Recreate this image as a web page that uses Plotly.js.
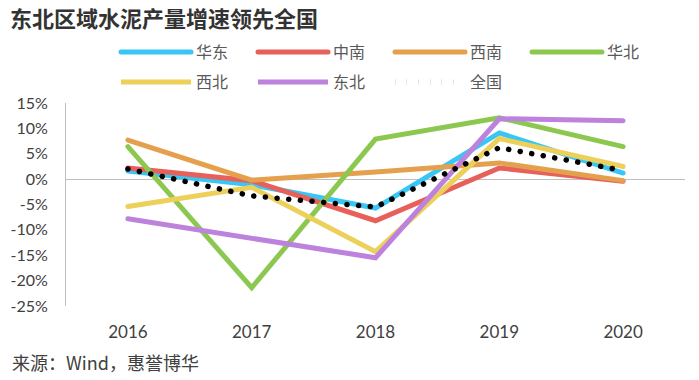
<!DOCTYPE html>
<html>
<head>
<meta charset="utf-8">
<script src="https://cdn.plot.ly/plotly-3.0.1.min.js"></script>
<style>
html,body{margin:0;padding:0;background:#fff;}
#chart{width:699px;height:380px;}
.scatterlayer path.js-line, .legend path.js-line { stroke-linecap: round !important; }
</style>
</head>
<body>
<div id="chart"></div>
<script>
const years = ['2016', '2017', '2018', '2019', '2020'];
const seriesNames = ['华东', '中南', '西南', '华北', '西北', '东北', '全国'];
const huadong  = [1.6, -1.1, -5.7, 9.1, 1.2];
const zhongnan = [2.2, -0.3, -8.2, 2.2, -0.4];
const xinan    = [7.7, -0.2, 1.4, 3.2, -0.3];
const huabei   = [6.4, -21.4, 7.9, 12.1, 6.4];
const xibei    = [-5.4, -1.6, -14.3, 8.0, 2.5];
const dongbei  = [-7.8, -11.6, -15.5, 11.9, 11.5];
const quanguo  = [2.0, -3.3, -5.5, 6.2, 1.7];
const yTickVals = [15, 10, 5, 0, -5, -10, -15, -20, -25];
const yTickText = ['15%', '10%', '5%', '0%', '-5%', '-10%', '-15%', '-20%', '-25%'];

const values = [huadong, zhongnan, xinan, huabei, xibei, dongbei, quanguo];
const colors = ['#38C6F4', '#E8605A', '#E5A04E', '#8CC850', '#ECD05A', '#BC82DD', '#000000'];

const traces = values.map((v, i) => ({
  type: 'scatter',
  mode: 'lines',
  x: years,
  y: v,
  name: seriesNames[i],
  legend: i < 4 ? 'legend' : 'legend2',
  line: i === 6
    ? {color: colors[i], width: 5.5, dash: '0.1px,11.6px'}
    : {color: colors[i], width: 5},
  hoverinfo: 'skip'
}));

const legendFont = {family: 'Noto Sans CJK SC', size: 16, color: '#595959'};
const layout = {
  width: 699,
  height: 380,
  margin: {l: 66, r: 14, t: 103, b: 74},
  paper_bgcolor: '#ffffff',
  plot_bgcolor: '#ffffff',
  title: {
    text: '<b>东北区域水泥产量增速领先全国</b>',
    font: {family: 'Noto Sans CJK SC', size: 22, color: '#333333'},
    xref: 'container', yref: 'container',
    x: 10 / 699, xanchor: 'left',
    y: 1 - 19 / 380, yanchor: 'middle'
  },
  xaxis: {
    type: 'category',
    range: [-0.5, 4.5],
    showline: false,
    showgrid: false,
    zeroline: false,
    ticks: '',
    ticklabelstandoff: 14,
    tickfont: {family: 'Lato', size: 17, color: '#404040'},
    fixedrange: true
  },
  yaxis: {
    range: [-25, 15],
    tickvals: yTickVals,
    ticktext: yTickText,
    showline: true,
    linecolor: '#bfbfbf',
    linewidth: 1,
    showgrid: false,
    zeroline: true,
    zerolinecolor: '#bfbfbf',
    zerolinewidth: 1,
    ticks: '',
    ticklabelstandoff: 14,
    tickfont: {family: 'Lato', size: 16, color: '#404040'},
    fixedrange: true
  },
  legend: {
    orientation: 'h',
    x: (116 - 66) / 619, xanchor: 'left',
    y: (306 - 52) / 203, yanchor: 'middle',
    entrywidth: 52, entrywidthmode: 'pixels',
    itemwidth: 70,
    font: legendFont,
    bgcolor: 'rgba(0,0,0,0)',
    traceorder: 'normal'
  },
  legend2: {
    orientation: 'h',
    x: (116 - 66) / 619, xanchor: 'left',
    y: (306 - 82) / 203, yanchor: 'middle',
    entrywidth: 52, entrywidthmode: 'pixels',
    itemwidth: 70,
    font: legendFont,
    bgcolor: 'rgba(0,0,0,0)',
    traceorder: 'normal'
  },
  annotations: [{
    text: '来源：Wind，惠誉博华',
    xref: 'paper', yref: 'paper',
    x: (10 - 66) / 619, xanchor: 'left',
    y: (306 - 362) / 203, yanchor: 'middle',
    showarrow: false,
    font: {family: 'Noto Sans CJK SC', size: 18, color: '#404040'}
  }],
  showlegend: true
};

Plotly.newPlot('chart', traces, layout, {displayModeBar: false, staticPlot: true});
</script>
</body>
</html>
